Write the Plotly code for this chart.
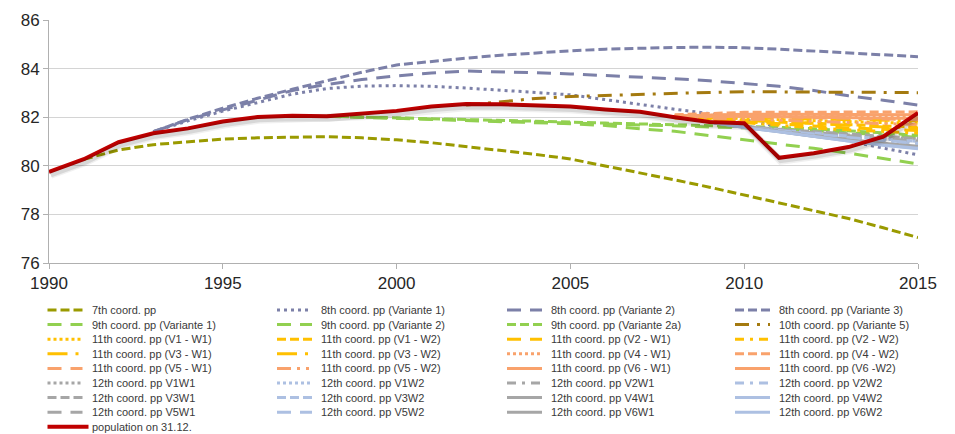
import plotly.graph_objects as go

# ---- data (population in millions) ----
years = list(range(1990, 2016))

population = [79.75, 80.27, 80.97, 81.34, 81.54, 81.82, 82.01, 82.06, 82.04, 82.16,
              82.26, 82.44, 82.54, 82.53, 82.50, 82.44, 82.32, 82.22, 82.00, 81.80,
              81.75, 80.33, 80.52, 80.77, 81.20, 82.18]

# 7th coordinated projection, 1991-2015
cp07 = [80.27, 80.65, 80.87, 81.00, 81.10, 81.15, 81.18, 81.20, 81.15, 81.07,
        80.95, 80.80, 80.63, 80.47, 80.28, 80.00, 79.72, 79.42, 79.12, 78.80,
        78.50, 78.18, 77.83, 77.45, 77.05]

# 8th coordinated projection, 1993-2015
cp08_v1 = [81.40, 81.85, 82.25, 82.60, 82.95, 83.18, 83.28, 83.30, 83.27, 83.20,
           83.12, 83.02, 82.92, 82.72, 82.50, 82.33, 82.15, 81.90, 81.60, 81.30,
           81.00, 80.73, 80.45]
cp08_v2 = [81.40, 81.90, 82.30, 82.70, 83.10, 83.35, 83.55, 83.70, 83.82, 83.90,
           83.88, 83.83, 83.78, 83.72, 83.67, 83.58, 83.50, 83.40, 83.27, 83.10,
           82.88, 82.70, 82.50]
cp08_v3 = [81.40, 81.92, 82.37, 82.78, 83.15, 83.50, 83.85, 84.15, 84.30, 84.43,
           84.55, 84.65, 84.73, 84.80, 84.84, 84.87, 84.88, 84.86, 84.80, 84.72,
           84.64, 84.56, 84.49]

# 9th coordinated projection, 1998-2015
cp09_v1 = [82.04, 82.00, 81.96, 81.92, 81.88, 81.84, 81.80, 81.73, 81.66, 81.52,
           81.42, 81.25, 81.08, 80.90, 80.72, 80.52, 80.30, 80.08]
cp09_v2 = [82.04, 82.00, 81.97, 81.94, 81.91, 81.87, 81.83, 81.78, 81.74, 81.70,
           81.66, 81.62, 81.58, 81.52, 81.45, 81.37, 81.27, 81.17]
cp09_v2a = [82.04, 82.01, 81.98, 81.95, 81.92, 81.88, 81.84, 81.80, 81.76, 81.73,
            81.70, 81.66, 81.63, 81.58, 81.52, 81.45, 81.36, 81.25]

# 10th coordinated projection, 2002-2015
cp10_v5 = [82.50, 82.65, 82.77, 82.85, 82.90, 82.95, 82.98, 83.02, 83.05, 83.05,
           83.04, 83.03, 83.02, 83.01]

# 11th coordinated projection, 2008-2015
cp11_v1w1 = [82.00, 81.98, 81.95, 81.90, 81.85, 81.82, 81.78, 81.75]
cp11_v1w2 = [82.00, 81.95, 81.88, 81.80, 81.74, 81.69, 81.64, 81.60]
cp11_v2w1 = [81.98, 81.92, 81.82, 81.72, 81.64, 81.56, 81.50, 81.45]
cp11_v2w2 = [81.98, 81.90, 81.78, 81.66, 81.56, 81.48, 81.41, 81.35]
cp11_v3w1 = [82.00, 82.00, 81.98, 81.95, 81.92, 81.90, 81.88, 81.85]
cp11_v3w2 = [82.00, 81.95, 81.90, 81.82, 81.75, 81.67, 81.60, 81.55]
cp11_v4w1 = [82.05, 82.08, 82.10, 82.08, 82.05, 82.03, 82.00, 82.00]
cp11_v4w2 = [82.10, 82.15, 82.20, 82.20, 82.20, 82.22, 82.22, 82.22]
cp11_v5w1 = [82.05, 82.05, 82.05, 82.02, 81.98, 81.95, 81.92, 81.90]
cp11_v5w2 = [82.00, 81.98, 81.93, 81.88, 81.82, 81.78, 81.74, 81.70]
cp11_v6w1 = [82.05, 82.10, 82.12, 82.12, 82.12, 82.10, 82.10, 82.10]
cp11_v6w2 = [82.05, 82.05, 82.05, 82.02, 82.00, 81.98, 81.96, 81.95]

# 12th coordinated projection, 2009-2015
cp12_v1w1 = [81.80, 81.62, 81.50, 81.38, 81.27, 81.18, 81.10]
cp12_v1w2 = [81.80, 81.60, 81.47, 81.33, 81.20, 81.10, 81.00]
cp12_v2w1 = [81.80, 81.60, 81.45, 81.30, 81.17, 81.05, 80.95]
cp12_v2w2 = [81.80, 81.60, 81.44, 81.28, 81.13, 81.00, 80.88]
cp12_v3w1 = [81.80, 81.62, 81.50, 81.40, 81.30, 81.20, 81.12]
cp12_v3w2 = [81.80, 81.60, 81.47, 81.34, 81.22, 81.10, 81.00]
cp12_v4w1 = [81.80, 81.60, 81.43, 81.25, 81.08, 80.93, 80.80]
cp12_v4w2 = [81.80, 81.58, 81.40, 81.20, 81.02, 80.85, 80.70]
cp12_v5w1 = [81.80, 81.62, 81.48, 81.35, 81.22, 81.12, 81.02]
cp12_v5w2 = [81.80, 81.60, 81.45, 81.30, 81.17, 81.05, 80.93]
cp12_v6w1 = [81.80, 81.60, 81.42, 81.22, 81.05, 80.90, 80.75]
cp12_v6w2 = [81.80, 81.58, 81.40, 81.20, 81.02, 80.86, 80.72]

y_ticks = [76, 78, 80, 82, 84, 86]
x_ticks = [1990, 1995, 2000, 2005, 2010, 2015]

# ---- styles ----
OLIVE = "#9a9a00"
SLATE = "#7c80a8"
GREEN = "#92d050"
GOLD = "#a47a10"
YELLOW = "#ffc000"
SALMON = "#f9a26c"
GRAY = "#a6a6a6"
BLUE = "#adc0e2"
RED = "#c00000"

DOT = "3px,3px"
DASH = "9px,4px"
LONG = "14px,9px"
DASHDOT = "9px,6px,3px,6px"
LONGDOT = "20px,8px,3px,8px"
LONGDOTDOT = "14px,6px,3px,6px,3px,6px"
SOLID = "solid"

# (name, first year, values, colour, dash)
series = [
    ("7th coord. pp", 1991, cp07, OLIVE, DASH),
    ("8th coord. pp (Variante 1)", 1993, cp08_v1, SLATE, "3px,4px"),
    ("8th coord. pp (Variante 2)", 1993, cp08_v2, SLATE, LONG),
    ("8th coord. pp (Variante 3)", 1993, cp08_v3, SLATE, DASH),
    ("9th coord. pp (Variante 1)", 1998, cp09_v1, GREEN, LONG),
    ("9th coord. pp (Variante 2)", 1998, cp09_v2, GREEN, LONG),
    ("9th coord. pp (Variante 2a)", 1998, cp09_v2a, GREEN, DASH),
    ("10th coord. pp (Variante 5)", 2002, cp10_v5, GOLD, "14px,8px,3px,8px"),
    ("11th coord. pp (V1 - W1)", 2008, cp11_v1w1, YELLOW, DOT),
    ("11th coord. pp (V1 - W2)", 2008, cp11_v1w2, YELLOW, DASH),
    ("11th coord. pp (V2 - W1)", 2008, cp11_v2w1, YELLOW, LONG),
    ("11th coord. pp (V2 - W2)", 2008, cp11_v2w2, YELLOW, DASHDOT),
    ("11th coord. pp (V3 - W1)", 2008, cp11_v3w1, YELLOW, LONGDOT),
    ("11th coord. pp (V3 - W2)", 2008, cp11_v3w2, YELLOW, LONGDOT),
    ("11th coord. pp (V4 - W1)", 2008, cp11_v4w1, SALMON, DOT),
    ("11th coord. pp (V4 - W2)", 2008, cp11_v4w2, SALMON, DASH),
    ("11th coord. pp (V5 - W1)", 2008, cp11_v5w1, SALMON, LONG),
    ("11th coord. pp (V5 - W2)", 2008, cp11_v5w2, SALMON, LONGDOTDOT),
    ("11th coord. pp (V6 - W1)", 2008, cp11_v6w1, SALMON, SOLID),
    ("11th coord. pp (V6 -W2)", 2008, cp11_v6w2, SALMON, SOLID),
    ("12th coord. pp V1W1", 2009, cp12_v1w1, GRAY, DOT),
    ("12th coord. pp V1W2", 2009, cp12_v1w2, BLUE, DOT),
    ("12th coord. pp V2W1", 2009, cp12_v2w1, GRAY, DASHDOT),
    ("12th coord. pp V2W2", 2009, cp12_v2w2, BLUE, DASHDOT),
    ("12th coord. pp V3W1", 2009, cp12_v3w1, GRAY, DASH),
    ("12th coord. pp V3W2", 2009, cp12_v3w2, BLUE, DASH),
    ("12th coord. pp V4W1", 2009, cp12_v4w1, GRAY, SOLID),
    ("12th coord. pp V4W2", 2009, cp12_v4w2, BLUE, SOLID),
    ("12th coord. pp V5W1", 2009, cp12_v5w1, GRAY, LONG),
    ("12th coord. pp V5W2", 2009, cp12_v5w2, BLUE, LONG),
    ("12th coord. pp V6W1", 2009, cp12_v6w1, GRAY, SOLID),
    ("12th coord. pp V6W2", 2009, cp12_v6w2, BLUE, SOLID),
]

W, H = 955, 434
L, R, T, B = 49, 37, 20, 171
PW, PH = W - L - R, H - T - B

fig = go.Figure()

for name, start, vals, color, dash in series:
    fig.add_trace(go.Scatter(
        x=list(range(start, start + len(vals))), y=vals, name=name,
        mode="lines", line=dict(color=color, width=3, dash=dash),
        showlegend=False, hoverinfo="x+y+name",
    ))

# soft drop shadow under the population line (overlay axis shifted a few px)
for w, a in [(8, 0.06), (5, 0.10)]:
    fig.add_trace(go.Scatter(
        x=years, y=population, xaxis="x2", yaxis="y2", mode="lines",
        line=dict(color=f"rgba(0,0,0,{a})", width=w),
        showlegend=False, hoverinfo="skip",
    ))

fig.add_trace(go.Scatter(
    x=years, y=population, name="population on 31.12.", xaxis="x", yaxis="y3",
    mode="lines", line=dict(color=RED, width=4),
    showlegend=False,
))

axis_font = dict(family="Arial, Liberation Sans, sans-serif", size=17, color="#262626")

fig.update_layout(
    width=W, height=H,
    margin=dict(l=L, r=R, t=T, b=B),
    paper_bgcolor="white", plot_bgcolor="white",
    showlegend=False,
    xaxis=dict(range=[1990, 2015], tickvals=x_ticks, showgrid=False,
               showline=True, linecolor="#b0b0b0", linewidth=1,
               ticks="outside", ticklen=5, tickcolor="#b0b0b0",
               tickfont=axis_font, zeroline=False),
    yaxis=dict(range=[76, 86], tickvals=y_ticks, showgrid=True,
               gridcolor="#d4d4d4", gridwidth=1,
               showline=True, linecolor="#b0b0b0", linewidth=1,
               ticks="outside", ticklen=5, tickcolor="#b0b0b0",
               tickfont=axis_font, zeroline=False),
    xaxis2=dict(range=[1990 - 0.05, 2015 - 0.05], overlaying="x", visible=False),
    yaxis2=dict(range=[76 + 0.12, 86 + 0.12], overlaying="y", visible=False),
    yaxis3=dict(range=[76, 86], overlaying="y", visible=False),
)

# ---- legend grid drawn in pixel positions below the plot ----
def px_x(px):
    return (px - L) / PW


def px_y(py):
    return (H - B - py) / PH


col_x = [47.5, 277, 507, 735]
row_y0, row_h = 310, 14.6
legend_font = dict(family="Arial, Liberation Sans, sans-serif", size=11, color="#3a3a3a")

shapes, annotations = [], []
entries = [(n, c, d, 3) for n, _, _, c, d in series] + [("population on 31.12.", RED, SOLID, 4)]
for i, (name, color, dash, w) in enumerate(entries):
    r, c = divmod(i, 4)
    x0 = col_x[c]
    y = row_y0 + r * row_h
    x1 = x0 + (41 if name.startswith("population") else 35)
    shapes.append(dict(type="line", xref="paper", yref="paper",
                       x0=px_x(x0), x1=px_x(x1), y0=px_y(y), y1=px_y(y),
                       line=dict(color=color, width=w, dash=dash)))
    annotations.append(dict(text=name, xref="paper", yref="paper",
                            x=px_x(x0 + 42), y=px_y(y), xanchor="left", yanchor="middle",
                            showarrow=False, font=legend_font))

fig.update_layout(shapes=shapes, annotations=annotations)

fig.write_html("out.html")
